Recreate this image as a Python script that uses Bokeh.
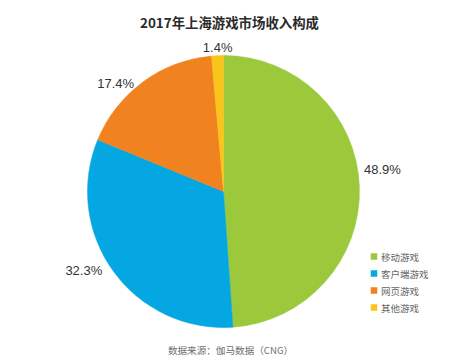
import math
from bokeh.plotting import figure
from bokeh.models import Range1d, ColumnDataSource
from bokeh.core.properties import value
from bokeh.embed import file_html
from bokeh.resources import INLINE

# ---- data ----
title_text = "2017年上海游戏市场收入构成"
categories = ["移动游戏", "客户端游戏", "网页游戏", "其他游戏"]
shares = [48.9, 32.3, 17.4, 1.4]
source_note = "数据来源：伽马数据（CNG）"

# ---- style / layout ----
colors = ["#9cc83b", "#05a7e3", "#f0821f", "#f9c51b"]
W, H = 442, 355
cx, cy_page, R = 223, 191, 136
label_r = 155
label_nudge = [(4, -17), (-14, -12), (-16, 17), (1, 11)]
CJK = "Noto Sans CJK SC"

def Y(page_y):
    return H - page_y

p = figure(width=W, height=H, output_backend="svg", toolbar_location=None,
           x_range=Range1d(0, W), y_range=Range1d(0, H),
           x_axis_type=None, y_axis_type=None, min_border=0,
           background_fill_color="white", border_fill_color="white")
p.outline_line_color = None
p.grid.visible = False

# ---- pie ----
total = sum(shares)
starts, ends, mids = [], [], []
cum = 0.0
for s in shares:
    a0 = math.pi / 2 - 2 * math.pi * cum / total
    cum += s
    a1 = math.pi / 2 - 2 * math.pi * cum / total
    starts.append(a0)
    ends.append(a1)
    mids.append((a0 + a1) / 2)

src = ColumnDataSource(dict(x=[cx] * len(shares), y=[Y(cy_page)] * len(shares),
                            start=starts, end=ends, color=colors))
p.wedge(x="x", y="y", radius=R, start_angle="start", end_angle="end",
        direction="clock", fill_color="color", line_color="color",
        line_width=0.5, source=src)

# ---- slice labels ----
lx, ly, lt = [], [], []
for s, m, (dx, dy) in zip(shares, mids, label_nudge):
    lx.append(cx + label_r * math.cos(m) + dx)
    ly.append(Y(cy_page) + label_r * math.sin(m) - dy)
    lt.append(f"{s:.1f}%")
p.text(x=lx, y=ly, text=lt, text_align="center", text_baseline="middle",
       text_font=value("Liberation Sans"), text_font_size="13px",
       text_color="#333333")

# ---- title ----
p.text(x=[229], y=[Y(21)], text=[title_text], text_align="center",
       text_baseline="middle", text_font=value(CJK), text_font_size="13.4px",
       text_font_style="bold", text_color="#2a2a2a")

# ---- legend ----
leg_x, leg_y0, leg_dy = 373.5, 256, 17
sq_y = [Y(leg_y0 + i * leg_dy) for i in range(len(categories))]
p.scatter(x=[leg_x] * len(categories), y=sq_y, marker="square", size=6.5,
          fill_color=colors, line_color=None)
p.text(x=[leg_x + 7] * len(categories), y=sq_y, text=categories,
       text_align="left", text_baseline="middle", text_font=value(CJK),
       text_font_size="9.5px", text_color="#666666")

# ---- source note ----
p.text(x=[230], y=[Y(349)], text=[source_note], text_align="center",
       text_baseline="middle", text_font=value(CJK), text_font_size="9.6px",
       text_color="#707070")

open("out.html", "w").write(file_html(p, INLINE))
